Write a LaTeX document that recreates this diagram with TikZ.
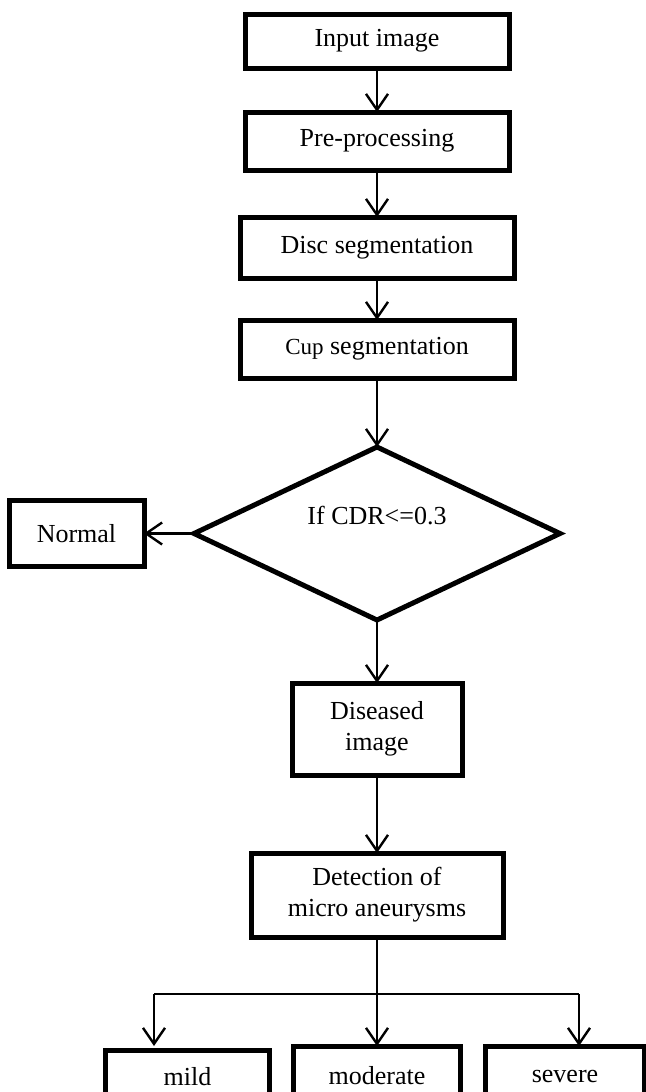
\documentclass[tikz,border=0pt]{standalone}
\usepackage{fontspec}
\setmainfont{Liberation Serif}
\usetikzlibrary{positioning, arrows.meta, shapes.geometric}

\begin{document}
\begin{tikzpicture}[
    x=0.5pt, y=-0.5pt,
    font=\fontsize{13}{15.5}\selectfont,
    box/.style    = {draw=black, line width=2.5pt, fill=white, align=center,
                     inner sep=2pt, outer sep=0pt, minimum width=132pt, minimum height=28pt},
    decide/.style = {diamond, draw=black, line width=2.5pt, inner sep=0pt, outer sep=0pt,
                     minimum width=183pt, minimum height=86.5pt},
    flow/.style   = {-{Straight Barb[length=8pt, width=11pt]}, draw=black, line width=1.2pt},
    split/.style  = {draw=black, line width=0.8pt},
  ]
  \useasboundingbox (0,0) rectangle (645,1092);

  \node[box, minimum height=27pt] (inp) at (377,41) {Input image};
  \node[box, minimum height=29pt, below=22pt of inp] (pre) {Pre-processing};
  \node[box, minimum width=137pt, minimum height=30.5pt, below=23.5pt of pre] (disc)
      {Disc segmentation};
  \node[box, minimum width=137pt, minimum height=29pt, below=21pt of disc] (cup)
      {{\fontsize{11.5}{14}\selectfont Cup} segmentation};
  \node[decide, below=34.5pt of cup,
        label={[yshift=9pt]center:If CDR<=0.3}] (cdr) {};
  \node[box, minimum width=67.5pt, minimum height=33pt, left=25pt of cdr] (norm) {Normal};
  \node[box, minimum width=85pt, minimum height=46pt, below=31.5pt of cdr] (dis)
      {Diseased\\image};
  \node[box, minimum width=126pt, minimum height=42pt, below=39pt of dis] (det)
      {Detection of\\micro aneurysms};

  % grades, cut by the lower edge
  \node[box, minimum width=83.5pt, minimum height=30pt, below=54.5pt of det] (mod) {moderate};
  \node[box, minimum width=82pt, minimum height=27pt, left=12pt of mod, yshift=-0.5pt] (mild) {mild};
  \node[box, minimum width=79.5pt, minimum height=30pt, right=12.5pt of mod] (sev) {severe};

  \foreach \a/\b in {inp/pre, pre/disc, disc/cup, cup/cdr, cdr/dis, dis/det, det/mod}
    \draw[flow] (\a) -- (\b);
  \draw[flow] (cdr.west) -- (cdr.west -| norm.east);

  \coordinate (bl) at (154,994);
  \coordinate (br) at (579,994);
  \draw[split] (bl) -- (br);
  \draw[flow] (bl) -- (bl |- mod.north);
  \draw[flow] (br) -- (br |- mod.north);
\end{tikzpicture}
\end{document}
